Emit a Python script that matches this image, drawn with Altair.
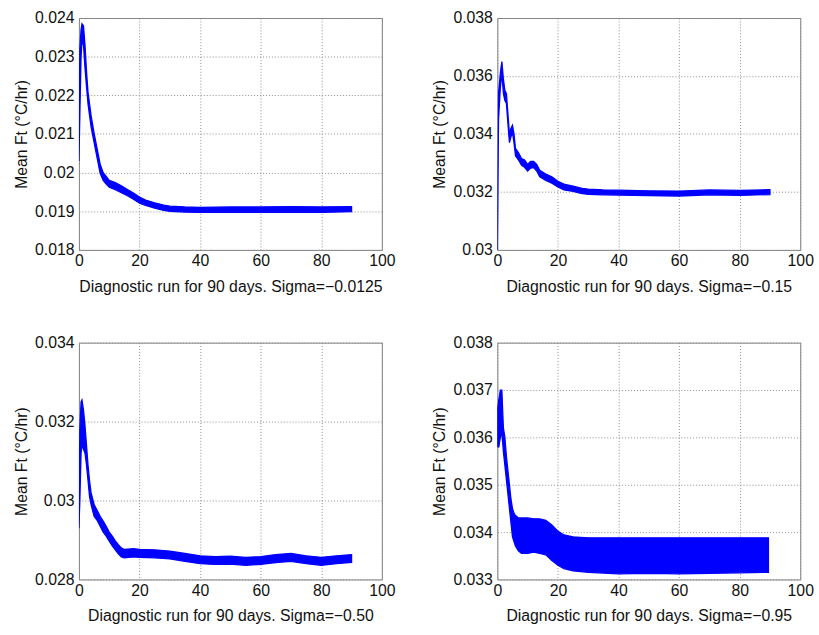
import altair as alt
import pandas as pd

# ---------------- data ----------------
x_ticks = [0, 20, 40, 60, 80, 100]
y_title = "Mean Ft (°C/hr)"

titles = [
    "Diagnostic run for 90 days. Sigma=\u22120.0125",
    "Diagnostic run for 90 days. Sigma=\u22120.15",
    "Diagnostic run for 90 days. Sigma=\u22120.50",
    "Diagnostic run for 90 days. Sigma=\u22120.95",
]

# Panel 1: Sigma = -0.0125
days1 = [0, 0.3, 0.7, 1.0, 1.5, 2.0, 2.5, 3, 3.5, 4, 5, 6, 7, 8, 9, 10, 12, 14, 16, 18,
         20, 22, 25, 28, 30, 35, 40, 50, 60, 70, 80, 90]
lo1 = [0.02030, 0.02150, 0.02300, 0.02340, 0.02330, 0.02270, 0.02222, 0.02178, 0.02148, 0.02118,
       0.02078, 0.02038, 0.01998, 0.01980, 0.01970, 0.01962, 0.01956, 0.01948, 0.01940, 0.01931,
       0.01921, 0.01915, 0.01908, 0.01902, 0.01900, 0.01898, 0.01897, 0.01898, 0.01897, 0.01898,
       0.01897, 0.01899]
hi1 = [0.02060, 0.02320, 0.02370, 0.02385, 0.02380, 0.02330, 0.02262, 0.02208, 0.02178, 0.02148,
       0.02102, 0.02062, 0.02022, 0.02000, 0.01990, 0.01980, 0.01974, 0.01966, 0.01956, 0.01947,
       0.01937, 0.01929, 0.01922, 0.01916, 0.01913, 0.01911, 0.01910, 0.01911, 0.01911, 0.01912,
       0.01911, 0.01912]

# Panel 2: Sigma = -0.15
days2 = [0, 0.4, 1.0, 1.5, 2.0, 2.5, 3, 3.5, 4, 4.5, 5, 5.5, 6, 7, 8, 9, 10, 11, 12, 13, 14,
         16, 18, 20, 22, 25, 28, 30, 35, 40, 50, 60, 70, 80, 90]
lo2 = [0.03000, 0.03450, 0.03560, 0.03610, 0.03540, 0.03515, 0.03505, 0.03435, 0.03370, 0.03390,
       0.03405, 0.03370, 0.03325, 0.03310, 0.03292, 0.03285, 0.03272, 0.03282, 0.03284, 0.03272,
       0.03252, 0.03240, 0.03230, 0.03217, 0.03207, 0.03202, 0.03194, 0.03192, 0.03190, 0.03189,
       0.03187, 0.03186, 0.03190, 0.03188, 0.03191]
hi2 = [0.03010, 0.03540, 0.03610, 0.03650, 0.03590, 0.03550, 0.03540, 0.03470, 0.03400, 0.03420,
       0.03430, 0.03400, 0.03350, 0.03335, 0.03315, 0.03310, 0.03295, 0.03305, 0.03305, 0.03295,
       0.03275, 0.03262, 0.03252, 0.03237, 0.03227, 0.03220, 0.03212, 0.03210, 0.03207, 0.03206,
       0.03204, 0.03203, 0.03207, 0.03205, 0.03208]

# Panel 3: Sigma = -0.50
days3 = [0, 0.3, 0.7, 1.0, 1.5, 2.0, 2.5, 3, 3.5, 4, 5, 6, 7, 8, 9, 10, 11, 12, 13, 14, 15,
         18, 20, 25, 30, 35, 40, 45, 50, 55, 60, 65, 70, 75, 80, 85, 90]
lo3 = [0.02930, 0.03000, 0.03120, 0.03140, 0.03130, 0.03120, 0.03090, 0.03050, 0.03010, 0.02990,
       0.02960, 0.02950, 0.02935, 0.02920, 0.02910, 0.02897, 0.02885, 0.02875, 0.02865, 0.02857,
       0.02855, 0.02857, 0.02856, 0.02855, 0.02852, 0.02846, 0.02840, 0.02838, 0.02839, 0.02836,
       0.02838, 0.02843, 0.02846, 0.02840, 0.02836, 0.02840, 0.02843]
hi3 = [0.02960, 0.03180, 0.03250, 0.03255, 0.03230, 0.03190, 0.03140, 0.03090, 0.03050, 0.03020,
       0.02990, 0.02975, 0.02960, 0.02948, 0.02935, 0.02920, 0.02910, 0.02898, 0.02888, 0.02880,
       0.02876, 0.02878, 0.02876, 0.02875, 0.02872, 0.02866, 0.02860, 0.02858, 0.02859, 0.02856,
       0.02858, 0.02863, 0.02866, 0.02860, 0.02856, 0.02860, 0.02863]

# Panel 4: Sigma = -0.95 (wide oscillation band)
days4 = [0, 0.5, 1.0, 1.5, 2.0, 2.5, 3.0, 3.5, 4.0, 4.5, 5.0, 5.5, 6.0, 7, 8, 10, 12, 14, 16,
         18, 20, 22, 25, 30, 40, 50, 60, 70, 80, 89.5]
lo4 = [0.03580, 0.03580, 0.03600, 0.03610, 0.03570, 0.03540, 0.03510, 0.03480, 0.03450, 0.03420,
       0.03390, 0.03380, 0.03370, 0.03360, 0.03355, 0.03355, 0.03358, 0.03355, 0.03352, 0.03340,
       0.03330, 0.03323, 0.03318, 0.03315, 0.03312, 0.03313, 0.03312, 0.03313, 0.03314, 0.03315]
hi4 = [0.03660, 0.03680, 0.03700, 0.03700, 0.03620, 0.03600, 0.03560, 0.03530, 0.03500, 0.03470,
       0.03450, 0.03440, 0.03435, 0.03430, 0.03430, 0.03430, 0.03428, 0.03428, 0.03425, 0.03415,
       0.03402, 0.03394, 0.03390, 0.03388, 0.03388, 0.03388, 0.03388, 0.03388, 0.03388, 0.03388]

yticks1 = [0.018, 0.019, 0.020, 0.021, 0.022, 0.023, 0.024]
yticks2 = [0.030, 0.032, 0.034, 0.036, 0.038]
yticks3 = [0.028, 0.030, 0.032, 0.034]
yticks4 = [0.033, 0.034, 0.035, 0.036, 0.037, 0.038]

BLUE = "#0000ff"
FONT = "Liberation Sans"


def panel(days, lo, hi, ydom, yticks, xtitle, h):
    df = pd.DataFrame({"day": days, "lo": lo, "hi": hi})
    return alt.Chart(df).mark_area(
        color=BLUE, stroke=BLUE, strokeWidth=1.3, opacity=1, clip=True
    ).encode(
        x=alt.X("day:Q", scale=alt.Scale(domain=[0, 100], nice=False),
                axis=alt.Axis(values=x_ticks, title=xtitle)),
        y=alt.Y("lo:Q", scale=alt.Scale(domain=ydom, nice=False, zero=False),
                axis=alt.Axis(values=yticks, format="~g", title=y_title)),
        y2="hi:Q",
    ).properties(width=307, height=h)


p1 = panel(days1, lo1, hi1, [0.018, 0.024], yticks1, titles[0], 235)
p2 = panel(days2, lo2, hi2, [0.030, 0.038], yticks2, titles[1], 235)
p3 = panel(days3, lo3, hi3, [0.028, 0.034], yticks3, titles[2], 240)
p4 = panel(days4, lo4, hi4, [0.033, 0.038], yticks4, titles[3], 240)

row1 = alt.hconcat(p1, p2, spacing=36)
row2 = alt.hconcat(p3, p4, spacing=36)

chart = alt.vconcat(row1, row2, spacing=39).properties(
    padding={"left": 13, "top": 5, "right": 5, "bottom": 5},
    background="white",
).configure_view(
    stroke="#808080", strokeWidth=1
).configure_axis(
    labelFont=FONT, titleFont=FONT, labelFontSize=16, titleFontSize=16,
    titleFontWeight="normal", labelColor="#111111", titleColor="#111111",
    grid=True, gridColor="#8c8c8c", gridDash=[1, 2], gridWidth=1,
    ticks=False, domain=False, labelFlush=False,
).configure_axisX(
    labelPadding=3, titlePadding=10
).configure_axisY(
    labelPadding=5, titlePadding=5
)

chart.save("out.html", embed_options={"renderer": "svg", "actions": False})
